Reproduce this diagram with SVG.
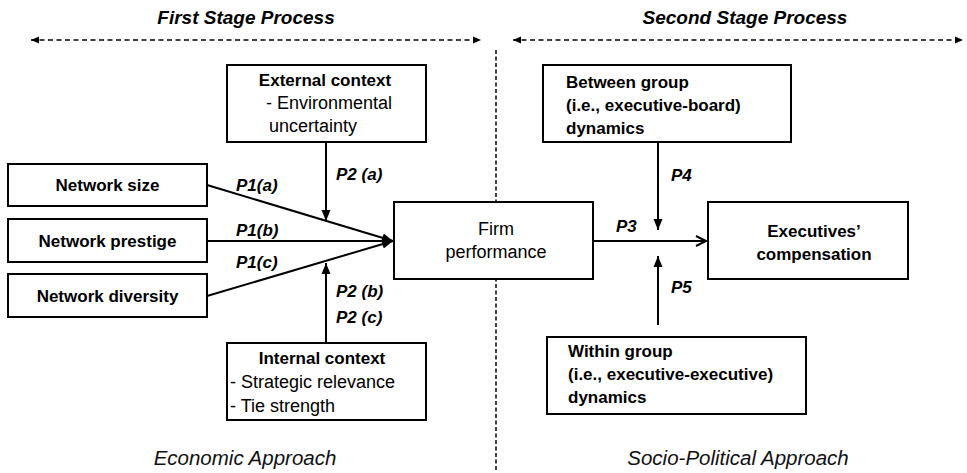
<svg xmlns="http://www.w3.org/2000/svg" width="967" height="473" viewBox="0 0 967 473">
<style>
  .box { fill: #ffffff; stroke: #000000; stroke-width: 2; }
  .lbl { font-family: "Liberation Sans", Arial, sans-serif; font-size: 17px; fill: #000000; }
  .r { font-size: 18px; }
  .b { font-weight: bold; }
  .c { text-anchor: middle; }
  .p { font-family: "Liberation Sans", Arial, sans-serif; font-size: 17px; font-weight: bold; font-style: italic; fill: #000000; }
  .title { font-family: "Liberation Sans", Arial, sans-serif; font-size: 19px; font-weight: bold; font-style: italic; fill: #000000; text-anchor: middle; }
  .appr { font-family: "Liberation Sans", Arial, sans-serif; font-size: 20.5px; font-style: italic; fill: #111111; text-anchor: middle; }
  .conn { stroke: #000000; stroke-width: 2; fill: none; }
  .dash { stroke: #000000; stroke-width: 1.5; stroke-dasharray: 5 3.5; fill: none; }
  .vdash { stroke: #000000; stroke-width: 1.5; stroke-dasharray: 4 2.5; fill: none; }
</style>
<defs>
  <marker id="arr" markerUnits="userSpaceOnUse" markerWidth="12" markerHeight="10" refX="11" refY="5" orient="auto">
    <path d="M0,0.5 L11,5 L0,9.5 z" fill="#000000"/>
  </marker>
  <marker id="open" markerUnits="userSpaceOnUse" markerWidth="14" markerHeight="14" refX="11" refY="6" orient="auto">
    <path d="M1,1 L11,6 L1,11" fill="none" stroke="#000000" stroke-width="2"/>
  </marker>
  <marker id="small" markerUnits="userSpaceOnUse" markerWidth="9" markerHeight="8" refX="8" refY="4" orient="auto-start-reverse">
    <path d="M0,0.5 L8,4 L0,7.5 z" fill="#000000"/>
  </marker>
</defs>

<rect width="967" height="473" fill="#ffffff"/>

<g id="headers">
  <text class="title" x="246" y="23.5">First Stage Process</text>
  <text class="title" x="745" y="23.5">Second Stage Process</text>
  <text class="appr" x="245" y="465">Economic Approach</text>
  <text class="appr" x="738" y="465">Socio-Political Approach</text>
</g>

<g id="connectors">
  <line class="dash" x1="31" y1="40" x2="481" y2="40" marker-start="url(#small)" marker-end="url(#small)"/>
  <line class="dash" x1="513" y1="40" x2="963" y2="40" marker-start="url(#small)" marker-end="url(#small)"/>
  <line class="vdash" x1="496" y1="50" x2="496" y2="470"/>
  <line class="conn" x1="207" y1="185" x2="393" y2="241" marker-end="url(#arr)"/>
  <line class="conn" x1="207" y1="241" x2="393" y2="241" marker-end="url(#arr)"/>
  <line class="conn" x1="207" y1="296" x2="393" y2="241" marker-end="url(#arr)"/>
  <line class="conn" x1="326" y1="142" x2="326" y2="221" marker-end="url(#arr)"/>
  <line class="conn" x1="326" y1="343" x2="326" y2="263" marker-end="url(#arr)"/>
  <line class="conn" x1="593" y1="241" x2="706" y2="241" marker-end="url(#open)"/>
  <line class="conn" x1="658" y1="142" x2="658" y2="230" marker-end="url(#arr)"/>
  <line class="conn" x1="658" y1="325" x2="658" y2="256" marker-end="url(#arr)"/>
  <text class="p" x="236" y="191">P1(a)</text>
  <text class="p" x="236" y="236">P1(b)</text>
  <text class="p" x="236" y="268">P1(c)</text>
  <text class="p" x="336" y="180">P2 (a)</text>
  <text class="p" x="336" y="297">P2 (b)</text>
  <text class="p" x="336" y="323">P2 (c)</text>
  <text class="p" x="616" y="232">P3</text>
  <text class="p" x="671" y="181">P4</text>
  <text class="p" x="671" y="293">P5</text>
</g>

<g id="network-size">
  <rect class="box" x="8" y="164" width="199" height="42"/>
  <text class="lbl b c" x="107.5" y="191">Network size</text>
</g>
<g id="network-prestige">
  <rect class="box" x="8" y="219" width="199" height="43"/>
  <text class="lbl b c" x="107.5" y="247">Network prestige</text>
</g>
<g id="network-diversity">
  <rect class="box" x="8" y="274" width="199" height="43"/>
  <text class="lbl b c" x="107.5" y="302">Network diversity</text>
</g>
<g id="external-context">
  <rect class="box" x="227" y="65" width="199" height="77"/>
  <text class="lbl b c" x="325" y="86">External context</text>
  <text class="lbl r" x="266" y="109">- Environmental</text>
  <text class="lbl r" x="269" y="132">uncertainty</text>
</g>
<g id="internal-context">
  <rect class="box" x="227" y="343" width="199" height="77"/>
  <text class="lbl b c" x="322" y="364">Internal context</text>
  <text class="lbl r" x="230" y="388">- Strategic relevance</text>
  <text class="lbl r" x="230" y="412">- Tie strength</text>
</g>
<g id="firm-performance">
  <rect class="box" x="394" y="202" width="199" height="77"/>
  <text class="lbl r c" x="496" y="235">Firm</text>
  <text class="lbl r c" x="496" y="258">performance</text>
</g>
<g id="executives-compensation">
  <rect class="box" x="708" y="202" width="200" height="77"/>
  <text class="lbl b c" x="814" y="237">Executives’</text>
  <text class="lbl b c" x="814" y="260">compensation</text>
</g>
<g id="between-group">
  <rect class="box" x="543" y="65" width="248" height="77"/>
  <text class="lbl b" x="566" y="88">Between group</text>
  <text class="lbl b" x="566" y="111">(i.e., executive-board)</text>
  <text class="lbl b" x="566" y="134">dynamics</text>
</g>
<g id="within-group">
  <rect class="box" x="547" y="337" width="259" height="77"/>
  <text class="lbl b" x="568" y="357">Within group</text>
  <text class="lbl b" x="568" y="380">(i.e., executive-executive)</text>
  <text class="lbl b" x="568" y="403">dynamics</text>
</g>
</svg>
